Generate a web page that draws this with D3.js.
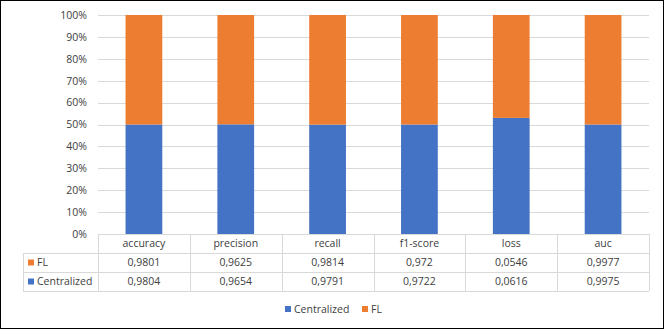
<!DOCTYPE html>
<html lang="en">
<head>
    <meta charset="UTF-8">
    <title>Centralized vs FL</title>
    <style>
        body { margin: 0; background: #fff; }
        svg text { font-family: "Open Sans", "Liberation Sans", sans-serif; fill: #404040; }
    </style>
</head>
<body>
    <script src="https://d3js.org/d3.v7.min.js"></script>
    <script>
        const categories = ['accuracy', 'precision', 'recall', 'f1-score', 'loss', 'auc']
        const centralized = [0.9804, 0.9654, 0.9791, 0.9722, 0.0616, 0.9975]
        const fl = [0.9801, 0.9625, 0.9814, 0.972, 0.0546, 0.9977]
        const yTicks = [0, 0.1, 0.2, 0.3, 0.4, 0.5, 0.6, 0.7, 0.8, 0.9, 1]

        const width = 664
        const height = 329
        const blue = '#4472C4'
        const orange = '#ED7D31'
        const gridColor = '#d9d9d9'

        const svg = d3.select('body')
            .append('svg')
            .attr('width', width)
            .attr('height', height)

        svg.append('rect')
            .attr('x', 0.5).attr('y', 0.5)
            .attr('width', width - 1).attr('height', height - 1)
            .attr('fill', '#fff')
            .attr('stroke', '#000')

        const x = d3.scaleBand()
            .domain(categories)
            .range([98, 649])

        const y = d3.scaleLinear()
            .domain([0, 1])
            .range([234, 15])

        // gridlines
        svg.append('g')
            .selectAll('line')
            .data(yTicks)
            .join('line')
            .attr('x1', 98)
            .attr('x2', 649)
            .attr('y1', d => Math.round(y(d)) + 0.5)
            .attr('y2', d => Math.round(y(d)) + 0.5)
            .attr('stroke', gridColor)

        // y axis labels
        const yAxis = d3.axisLeft(y)
            .tickValues(yTicks)
            .tickFormat(d3.format('.0%'))
            .tickSize(0)
            .tickPadding(0)
        svg.append('g')
            .attr('transform', 'translate(87,0)')
            .call(yAxis)
            .call(g => g.select('.domain').remove())
            .selectAll('text')
            .attr('font-size', 10.5)
            .attr('font-family', '"Open Sans", sans-serif')
            .attr('fill', '#404040')

        // stacked 100% bars
        const barW = x.bandwidth() * 0.4
        const rows = categories.map((c, i) => {
            const total = centralized[i] + fl[i]
            return { cat: c, c: centralized[i] / total }
        })
        const bars = svg.append('g')
        bars.selectAll('.c')
            .data(rows)
            .join('rect')
            .attr('x', d => x(d.cat) + (x.bandwidth() - barW) / 2)
            .attr('width', barW)
            .attr('y', d => y(d.c))
            .attr('height', d => y(0) - y(d.c))
            .attr('fill', blue)
        bars.selectAll('.f')
            .data(rows)
            .join('rect')
            .attr('x', d => x(d.cat) + (x.bandwidth() - barW) / 2)
            .attr('width', barW)
            .attr('y', y(1))
            .attr('height', d => y(d.c) - y(1))
            .attr('fill', orange)

        // data table
        const rowY = [234, 253, 272, 291]
        const tableLeft = 23
        const table = svg.append('g')
            .attr('stroke', gridColor)
        rowY.forEach((ry, i) => {
            table.append('line')
                .attr('x1', i === 0 ? 98 : tableLeft)
                .attr('x2', 649)
                .attr('y1', ry + 0.5)
                .attr('y2', ry + 0.5)
        })
        const colX = categories.map(c => x(c)).concat([649])
        colX.forEach(cx => {
            table.append('line')
                .attr('x1', Math.round(cx) + 0.5)
                .attr('x2', Math.round(cx) + 0.5)
                .attr('y1', 234)
                .attr('y2', 291)
        })
        table.append('line')
            .attr('x1', tableLeft + 0.5)
            .attr('x2', tableLeft + 0.5)
            .attr('y1', 253)
            .attr('y2', 291)

        const fmt = v => String(v).replace('.', ',')
        const textG = svg.append('g')
            .attr('font-size', 10.5)
            .attr('text-anchor', 'middle')
        textG.selectAll('.hdr')
            .data(categories)
            .join('text')
            .attr('x', d => x(d) + x.bandwidth() / 2)
            .attr('y', 243.5)
            .attr('dy', '0.35em')
            .text(d => d)

        const series = [
            { name: 'FL', values: fl, color: orange, y: 262.5 },
            { name: 'Centralized', values: centralized, color: blue, y: 281.5 }
        ]
        series.forEach(s => {
            textG.selectAll(null)
                .data(s.values)
                .join('text')
                .attr('x', (d, i) => x(categories[i]) + x.bandwidth() / 2)
                .attr('y', s.y)
                .attr('dy', '0.35em')
                .text(fmt)
            svg.append('rect')
                .attr('x', 28).attr('y', s.y - 3)
                .attr('width', 6).attr('height', 6)
                .attr('fill', s.color)
            svg.append('text')
                .attr('x', 37)
                .attr('y', s.y)
                .attr('dy', '0.35em')
                .attr('font-size', 10.5)
                .text(s.name)
        })

        // legend
        const legend = [
            { name: 'Centralized', color: blue, x: 285 },
            { name: 'FL', color: orange, x: 362 }
        ]
        legend.forEach(l => {
            svg.append('rect')
                .attr('x', l.x).attr('y', 306)
                .attr('width', 6).attr('height', 6)
                .attr('fill', l.color)
            svg.append('text')
                .attr('x', l.x + 9)
                .attr('y', 309)
                .attr('dy', '0.35em')
                .attr('font-size', 10.5)
                .text(l.name)
        })
    </script>
</body>
</html>
